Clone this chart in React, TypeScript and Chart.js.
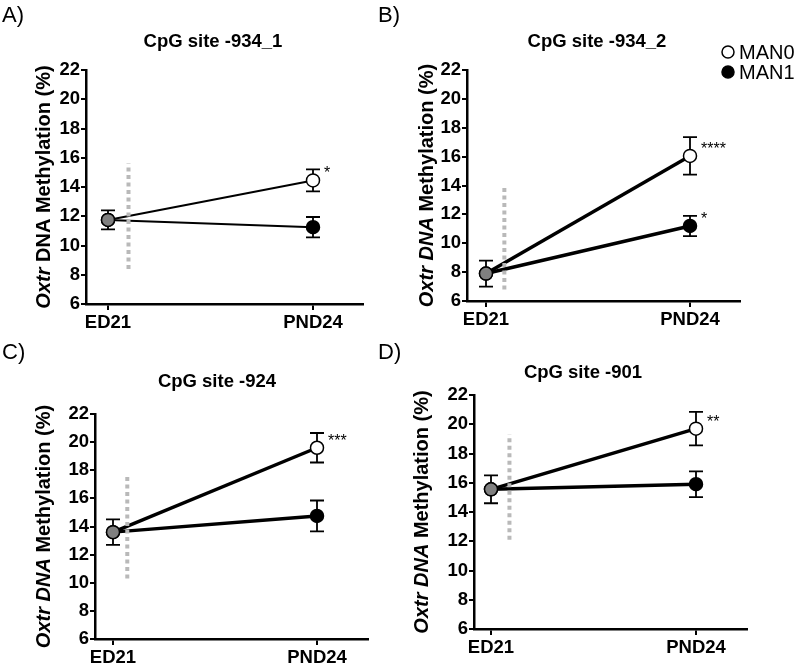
import React, { useEffect, useRef } from 'react';
import { Chart, registerables } from 'chart.js';

Chart.register(...registerables);

// ---------- data ----------
const CATEGORIES = ['ED21', 'PND24'];
const SERIES_NAMES = ['MAN0', 'MAN1'];
const PANEL_LABELS = ['A)', 'B)', 'C)', 'D)'];
const PANEL_TITLES = ['CpG site -934_1', 'CpG site -934_2', 'CpG site -924', 'CpG site -901'];
const Y_MIN = 6;
const Y_MAX = 22;
const Y_STEP = 2;

const ED21_MEAN = [11.75, 7.9, 13.6, 15.55];
const ED21_ERR = [0.65, 0.9, 0.9, 0.95];
const MAN0_PND24_MEAN = [14.45, 16.05, 19.6, 19.7];
const MAN0_PND24_ERR = [0.75, 1.3, 1.05, 1.15];
const MAN1_PND24_MEAN = [11.25, 11.2, 14.75, 15.9];
const MAN1_PND24_ERR = [0.7, 0.7, 1.1, 0.88];
const MAN0_SIG = ['*', '****', '***', '**'];
const MAN1_SIG = ['', '*', '', ''];

const DIVIDER_X = [0.1, 0.09, 0.07, 0.09];
const DIVIDER_LOW = [8.4, 6.8, 10.3, 12.1];
const DIVIDER_HIGH = [15.6, 13.9, 17.7, 19.3];

const Y_TITLE_ITALIC = ['Oxtr', 'Oxtr DNA', 'Oxtr DNA', 'Oxtr DNA'];
const Y_TITLE_PLAIN = [' DNA Methylation (%)', ' Methylation (%)', ' Methylation (%)', ' Methylation (%)'];

// ---------- layout (page pixels) ----------
const LAYOUT = [
  { cx: 0, cy: 0, cw: 400, ch: 340, l: 86, r: 363, t: 70, b: 304, x0: 108, x1: 313, lab: [2, 16], ttl: [213, 42], yt: 44, lw: 2, legend: false },
  { cx: 370, cy: 0, cw: 430, ch: 340, l: 467, r: 740, t: 70, b: 301, x0: 486, x1: 690, lab: [378, 16], ttl: [597, 42], yt: 427, lw: 3.5, legend: true },
  { cx: 0, cy: 325, cw: 400, ch: 340, l: 95, r: 368, t: 414, b: 639, x0: 113, x1: 317, lab: [2, 353], ttl: [217, 382], yt: 44, lw: 3.5, legend: false },
  { cx: 370, cy: 325, cw: 430, ch: 340, l: 474, r: 747, t: 395, b: 629, x0: 491, x1: 696, lab: [378, 353], ttl: [583, 373], yt: 422, lw: 3.5, legend: false },
];

const FAMILY = '"Liberation Sans", Arial, Helvetica, sans-serif';

function makePlugin(i: number) {
  const L = LAYOUT[i];
  return {
    id: 'panelDecor' + i,
    beforeDatasetsDraw(chart: any) {
      const ctx = chart.ctx;
      const xs = chart.scales.x;
      const ys = chart.scales.y;
      const bars = [
        [0, ED21_MEAN[i], ED21_ERR[i]],
        [1, MAN0_PND24_MEAN[i], MAN0_PND24_ERR[i]],
        [1, MAN1_PND24_MEAN[i], MAN1_PND24_ERR[i]],
      ];
      ctx.save();
      ctx.strokeStyle = '#000';
      ctx.lineWidth = 1.8;
      for (const [xv, m, e] of bars) {
        const px = xs.getPixelForValue(xv);
        const top = ys.getPixelForValue(m + e);
        const bot = ys.getPixelForValue(m - e);
        ctx.beginPath();
        ctx.moveTo(px, top);
        ctx.lineTo(px, bot);
        ctx.moveTo(px - 7, top);
        ctx.lineTo(px + 7, top);
        ctx.moveTo(px - 7, bot);
        ctx.lineTo(px + 7, bot);
        ctx.stroke();
      }
      ctx.restore();
    },
    afterDraw(chart: any) {
      const ctx = chart.ctx;
      const xs = chart.scales.x;
      const ys = chart.scales.y;
      ctx.save();
      ctx.fillStyle = '#000';
      // panel label
      ctx.font = `22px ${FAMILY}`;
      ctx.textAlign = 'left';
      ctx.textBaseline = 'middle';
      ctx.fillText(PANEL_LABELS[i], L.lab[0] - L.cx, L.lab[1] - L.cy);
      // title
      ctx.font = `bold 18.5px ${FAMILY}`;
      ctx.textAlign = 'center';
      ctx.fillText(PANEL_TITLES[i], L.ttl[0] - L.cx, L.ttl[1] - L.cy);
      // y title
      ctx.save();
      ctx.translate(L.yt - L.cx, (L.t + L.b) / 2 - L.cy);
      ctx.rotate(-Math.PI / 2);
      const fi = `italic bold 20px ${FAMILY}`;
      const fp = `bold 20px ${FAMILY}`;
      ctx.font = fi;
      const wi = ctx.measureText(Y_TITLE_ITALIC[i]).width;
      ctx.font = fp;
      const wp = ctx.measureText(Y_TITLE_PLAIN[i]).width;
      const sx = -(wi + wp) / 2;
      ctx.textAlign = 'left';
      ctx.font = fi;
      ctx.fillText(Y_TITLE_ITALIC[i], sx, 0);
      ctx.font = fp;
      ctx.fillText(Y_TITLE_PLAIN[i], sx + wi, 0);
      ctx.restore();
      // significance
      ctx.font = `16px ${FAMILY}`;
      ctx.textAlign = 'left';
      ctx.textBaseline = 'alphabetic';
      const px1 = xs.getPixelForValue(1);
      if (MAN0_SIG[i]) ctx.fillText(MAN0_SIG[i], px1 + 11, ys.getPixelForValue(MAN0_PND24_MEAN[i]) - 2);
      if (MAN1_SIG[i]) ctx.fillText(MAN1_SIG[i], px1 + 11, ys.getPixelForValue(MAN1_PND24_MEAN[i]) - 2);
      // legend
      if (L.legend) {
        const fills = ['#fff', '#000'];
        SERIES_NAMES.forEach((name, k) => {
          const cy = 52 + k * 20 - L.cy;
          const cx = 728 - L.cx;
          ctx.beginPath();
          ctx.arc(cx, cy, 6, 0, Math.PI * 2);
          ctx.fillStyle = fills[k];
          ctx.fill();
          ctx.lineWidth = 1.5;
          ctx.strokeStyle = '#000';
          ctx.stroke();
          ctx.fillStyle = '#000';
          ctx.font = `20px ${FAMILY}`;
          ctx.textBaseline = 'middle';
          ctx.fillText(name, 739 - L.cx, cy + 1);
        });
      }
      ctx.restore();
    },
  };
}

function Panel({ i }: { i: number }) {
  const ref = useRef<HTMLCanvasElement>(null);
  const L = LAYOUT[i];
  useEffect(() => {
    if (!ref.current) return;
    const YW = 60;
    const XH = 34;
    const l = L.l - L.cx;
    const r = L.r - L.cx;
    const t = L.t - L.cy;
    const b = L.b - L.cy;
    const span = L.x1 - L.x0;
    const xMin = -(L.x0 - L.l) / span;
    const xMax = 1 + (L.r - L.x1) / span;
    const man0 = [
      { x: 0, y: ED21_MEAN[i] },
      { x: 1, y: MAN0_PND24_MEAN[i] },
    ];
    const man1 = [
      { x: 0, y: ED21_MEAN[i] },
      { x: 1, y: MAN1_PND24_MEAN[i] },
    ];
    const divider = [
      { x: DIVIDER_X[i], y: DIVIDER_LOW[i] },
      { x: DIVIDER_X[i], y: DIVIDER_HIGH[i] },
    ];
    const tickFont = { family: FAMILY, weight: 'bold' as const, size: 18.5 };
    const chart = new Chart(ref.current, {
      type: 'line',
      data: {
        datasets: [
          {
            label: 'divider',
            data: divider,
            borderColor: '#b9b9b9',
            borderWidth: 4,
            borderDash: [4, 3.5],
            borderCapStyle: 'butt',
            pointRadius: 0,
          },
          {
            label: SERIES_NAMES[1],
            data: man1,
            borderColor: '#000',
            borderWidth: L.lw,
            pointRadius: 6.5,
            pointBorderWidth: 1.5,
            pointBorderColor: '#000',
            pointBackgroundColor: ['#808080', '#000'],
          },
          {
            label: SERIES_NAMES[0],
            data: man0,
            borderColor: '#000',
            borderWidth: L.lw,
            pointRadius: 6.5,
            pointBorderWidth: 1.5,
            pointBorderColor: '#000',
            pointBackgroundColor: ['#808080', '#fff'],
          },
        ],
      },
      options: {
        responsive: false,
        animation: false,
        events: [],
        layout: { padding: { left: l - YW, right: L.cw - r, top: t, bottom: L.ch - b - XH } },
        plugins: { legend: { display: false }, tooltip: { enabled: false }, title: { display: false } },
        scales: {
          x: {
            type: 'linear',
            min: xMin,
            max: xMax,
            afterFit: (s: any) => {
              s.height = XH;
            },
            afterBuildTicks: (s: any) => {
              s.ticks = [{ value: 0 }, { value: 1 }];
            },
            ticks: {
              callback: (v: any) => CATEGORIES[v] ?? '',
              font: tickFont,
              color: '#000',
              padding: 2,
              maxRotation: 0,
              autoSkip: false,
            },
            grid: { drawOnChartArea: false, tickLength: 6, color: '#000', lineWidth: 2 },
            border: { color: '#000', width: 2.5 },
          },
          y: {
            min: Y_MIN,
            max: Y_MAX,
            afterFit: (s: any) => {
              s.width = YW;
            },
            ticks: { stepSize: Y_STEP, font: tickFont, color: '#000', padding: 1 },
            grid: { drawOnChartArea: false, tickLength: 5, color: '#000', lineWidth: 2 },
            border: { color: '#000', width: 2.5 },
          },
        },
      } as any,
      plugins: [makePlugin(i)],
    });
    return () => chart.destroy();
  }, [i]);
  return (
    <canvas
      ref={ref}
      width={L.cw}
      height={L.ch}
      style={{ position: 'absolute', left: L.cx, top: L.cy, width: L.cw, height: L.ch }}
    />
  );
}

export default function App() {
  return (
    <div style={{ position: 'absolute', left: 0, top: 0, width: 800, height: 665, background: '#fff', overflow: 'hidden' }}>
      {LAYOUT.map((_, i) => (
        <Panel key={i} i={i} />
      ))}
    </div>
  );
}
